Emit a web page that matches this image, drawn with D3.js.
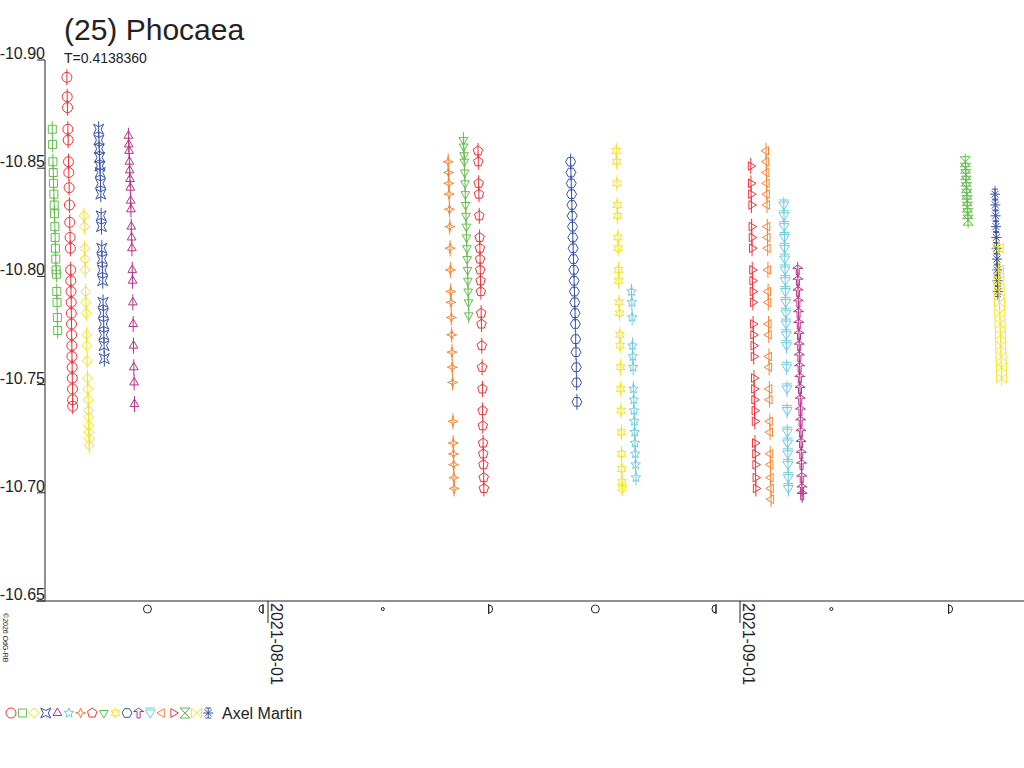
<!DOCTYPE html>
<html>
<head>
<meta charset="utf-8">
<script src="https://cdn.jsdelivr.net/npm/d3@7"></script>
<style>
body { margin: 0; background: #fff; }
svg { font-family: "Liberation Sans", Arial, sans-serif; }
</style>
</head>
<body>
<svg id="chart" width="1024" height="768"></svg>
<script>
// session start dates (observation nights)
var sessionStart = ["2021-07-17T20:00", "2021-07-18T19:00", "2021-07-19T22:00", "2021-07-20T21:00", "2021-07-22T20:00",
  "2021-08-12T20:00", "2021-08-13T20:00", "2021-08-14T19:00", "2021-08-20T21:00", "2021-08-23T21:00",
  "2021-08-24T21:00", "2021-09-01T17:00", "2021-09-02T17:00", "2021-09-03T21:00", "2021-09-04T19:00",
  "2021-09-15T19:00", "2021-09-17T18:00", "2021-09-17T23:00"];
var symbols = ["circle", "square", "diamond", "squareX", "triangle", "star5", "star4", "pentagon", "triDown",
  "star6", "hexagon", "tee", "triDownBar", "triLeft", "triRight", "hourglass", "bowtie", "asterisk"];
var colors = ["#ee3338", "#66bb50", "#f6e31c", "#3953a4", "#b5338a", "#6dcbdc", "#f58532", "#ee3338", "#66bb50",
  "#f6e31c", "#3953a4", "#b5338a", "#6dcbdc", "#f58532", "#ee3338", "#66bb50", "#f6e31c", "#3953a4"];
// which legend symbol each session uses
var sessionSymbol = [1, 0, 2, 3, 4, 6, 8, 7, 10, 9, 5, 14, 13, 12, 11, 15, 17, 16];
// [hours after start, magnitude]
var sessionData = [
  [[0,-10.868],[0.5,-10.861],[1,-10.853],[1.5,-10.848],[2,-10.843],[2.5,-10.838],[3,-10.833],[3.5,-10.829],[4,-10.823],[4.5,-10.818],[5,-10.813],[5.5,-10.808],[6,-10.803],[6.5,-10.801],[7,-10.793],[7.5,-10.788],[8,-10.781],[8.5,-10.775]],
  [[0,-10.892],[0.5,-10.883],[1,-10.878],[1.5,-10.868],[2,-10.863],[2.5,-10.853],[3,-10.848],[3.5,-10.841],[4,-10.833],[4.5,-10.825],[5,-10.818],[5.5,-10.813],[6,-10.803],[6.2,-10.798],[6.5,-10.793],[6.8,-10.788],[7,-10.783],[7.3,-10.778],[7.5,-10.773],[7.8,-10.768],[8,-10.763],[8.3,-10.758],[8.5,-10.753],[8.8,-10.748],[9,-10.743],[9.2,-10.740]],
  [[0,-10.828],[0.5,-10.823],[1,-10.813],[1.5,-10.808],[2,-10.803],[2.5,-10.793],[3,-10.788],[3.5,-10.783],[4,-10.773],[4.5,-10.768],[5,-10.761],[5.5,-10.753],[6,-10.748],[6.5,-10.743],[7,-10.738],[7.2,-10.735],[7.5,-10.731],[7.8,-10.728],[8,-10.725],[8.3,-10.722]],
  [[0,-10.868],[0.5,-10.863],[1,-10.859],[1.5,-10.855],[2,-10.851],[2.5,-10.848],[3,-10.843],[3.5,-10.838],[4,-10.828],[4.5,-10.823],[5,-10.813],[5.5,-10.808],[6,-10.803],[6.5,-10.798],[7,-10.788],[7.5,-10.783],[8,-10.778],[8.3,-10.773],[8.6,-10.768],[9,-10.762]],
  [[0,-10.865],[0.5,-10.861],[1,-10.858],[1.5,-10.853],[2,-10.849],[2.5,-10.845],[3,-10.841],[3.5,-10.835],[4,-10.831],[4.5,-10.823],[5,-10.818],[5.5,-10.813],[6,-10.803],[6.5,-10.798],[7,-10.788],[7.5,-10.778],[8,-10.768],[8.5,-10.758],[9,-10.751],[9.5,-10.741]],
  [[0,-10.853],[0.5,-10.848],[1,-10.843],[1.5,-10.838],[2,-10.831],[2.5,-10.823],[3,-10.813],[3.5,-10.803],[4,-10.793],[4.5,-10.788],[5,-10.781],[5.5,-10.773],[6,-10.765],[6.5,-10.758],[7,-10.751],[7.5,-10.733],[8,-10.723],[8.3,-10.718],[8.6,-10.713],[9,-10.707],[9.3,-10.702]],
  [[0,-10.863],[0.5,-10.860],[1,-10.856],[1.5,-10.853],[2,-10.848],[2.5,-10.843],[3,-10.838],[3.5,-10.833],[4,-10.828],[4.5,-10.823],[5,-10.818],[5.5,-10.813],[6,-10.808],[6.5,-10.803],[7,-10.798],[7.5,-10.793],[8,-10.788],[8.5,-10.782]],
  [[0,-10.858],[0.5,-10.853],[1,-10.843],[1.5,-10.838],[2,-10.828],[2.5,-10.818],[3,-10.813],[3.3,-10.808],[3.6,-10.803],[4,-10.798],[4.5,-10.793],[5,-10.783],[5.5,-10.778],[6,-10.768],[6.5,-10.758],[7,-10.748],[7.3,-10.738],[7.6,-10.731],[8,-10.723],[8.3,-10.718],[8.6,-10.713],[9,-10.707],[9.3,-10.702]],
  [[0,-10.853],[0.5,-10.848],[1,-10.843],[1.5,-10.838],[2,-10.833],[2.5,-10.828],[3,-10.823],[3.5,-10.818],[4,-10.813],[4.5,-10.808],[5,-10.803],[5.5,-10.798],[6,-10.793],[6.5,-10.788],[7,-10.783],[7.5,-10.778],[8,-10.771],[8.5,-10.765],[9,-10.758],[9.5,-10.751],[10,-10.742]],
  [[0,-10.858],[0.5,-10.853],[1,-10.843],[1.5,-10.833],[2,-10.828],[2.5,-10.818],[3,-10.813],[3.5,-10.803],[4,-10.798],[4.5,-10.788],[5,-10.783],[5.5,-10.773],[6,-10.768],[6.5,-10.758],[7,-10.748],[7.5,-10.738],[8,-10.728],[8.3,-10.718],[8.6,-10.711],[9,-10.705],[9.3,-10.702]],
  [[0,-10.793],[0.5,-10.788],[1,-10.781],[1.5,-10.768],[2,-10.763],[2.5,-10.758],[3,-10.748],[3.5,-10.743],[4,-10.738],[4.5,-10.733],[5,-10.728],[5.5,-10.723],[6,-10.718],[6.5,-10.713],[7,-10.707]],
  [[0,-10.851],[0.3,-10.843],[0.6,-10.838],[1,-10.833],[1.3,-10.823],[1.6,-10.818],[2,-10.813],[2.3,-10.803],[2.6,-10.798],[3,-10.793],[3.3,-10.788],[3.6,-10.778],[4,-10.773],[4.3,-10.768],[4.6,-10.763],[5,-10.753],[5.3,-10.748],[5.6,-10.743],[6,-10.738],[6.3,-10.733],[6.6,-10.723],[7,-10.718],[7.3,-10.713],[7.6,-10.707],[8,-10.702]],
  [[0,-10.858],[0.3,-10.853],[0.6,-10.848],[1,-10.843],[1.3,-10.838],[1.6,-10.833],[2,-10.823],[2.3,-10.818],[2.6,-10.813],[3,-10.803],[3.3,-10.793],[3.6,-10.788],[4,-10.778],[4.3,-10.773],[4.6,-10.763],[5,-10.758],[5.3,-10.748],[5.6,-10.743],[6,-10.733],[6.3,-10.728],[6.6,-10.718],[7,-10.713],[7.3,-10.707],[7.6,-10.702],[8,-10.697]],
  [[0,-10.833],[0.3,-10.828],[0.6,-10.823],[1,-10.818],[1.3,-10.813],[1.6,-10.808],[2,-10.803],[2.3,-10.798],[2.6,-10.793],[3,-10.788],[3.3,-10.783],[3.6,-10.778],[4,-10.773],[4.3,-10.768],[4.6,-10.758],[5,-10.748],[5.3,-10.738],[5.6,-10.728],[6,-10.723],[6.3,-10.718],[6.6,-10.713],[7,-10.707],[7.3,-10.702]],
  [[0,-10.803],[0.3,-10.798],[0.6,-10.793],[1,-10.788],[1.3,-10.783],[1.6,-10.778],[2,-10.773],[2.3,-10.768],[2.6,-10.763],[3,-10.758],[3.3,-10.753],[3.6,-10.748],[4,-10.743],[4.3,-10.738],[4.6,-10.733],[5,-10.728],[5.3,-10.723],[5.6,-10.718],[6,-10.713],[6.3,-10.707],[6.6,-10.702],[7,-10.699]],
  [[0,-10.853],[0.5,-10.850],[1,-10.847],[1.5,-10.844],[2,-10.841],[2.5,-10.838],[3,-10.835],[3.5,-10.832],[4,-10.829],[4.5,-10.826]],
  [[0,-10.838],[0.5,-10.833],[1,-10.828],[1.5,-10.823],[2,-10.818],[2.5,-10.813],[3,-10.808],[3.5,-10.803],[4,-10.798],[4.5,-10.793]],
  [[0,-10.813],[0.5,-10.803],[1,-10.798],[1.5,-10.793],[2,-10.788],[2.5,-10.783],[3,-10.778],[3.5,-10.773],[4,-10.768],[4.5,-10.763],[5,-10.758],[5.5,-10.753]]
];
var yTicks = [-10.90, -10.85, -10.80, -10.75, -10.70, -10.65];
var dateTicks = ["2021-08-01", "2021-09-01"];
// moon phases: 0 new, 1 first quarter, 2 full, 3 last quarter
var moonDates = ["2021-07-24T02:00", "2021-07-31T13:00", "2021-08-08T13:00", "2021-08-15T15:00", "2021-08-22T12:00", "2021-08-30T07:00", "2021-09-07T00:00", "2021-09-14T20:00"];
var moonPhases = [2, 3, 0, 1, 2, 3, 0, 1];
var observer = "Axel Martin";

var svg = d3.select("#chart");
var parse = d3.timeParse("%Y-%m-%dT%H:%M");
var parseDay = d3.timeParse("%Y-%m-%d");

var x = d3.scaleTime()
  .domain([parseDay("2021-08-01"), parseDay("2021-09-01")])
  .range([268, 740]);
var y = d3.scaleLinear().domain([-10.90, -10.65]).range([60, 601]);

function shape(name, r) {
  var p = d3.path();
  function poly(pts) {
    pts.forEach(function(q, i) { if (i) p.lineTo(q[0], q[1]); else p.moveTo(q[0], q[1]); });
    p.closePath();
  }
  function ngon(n, rot) {
    var pts = [];
    for (var i = 0; i < n; i++) { var a = rot + i * 2 * Math.PI / n; pts.push([r * Math.sin(a), -r * Math.cos(a)]); }
    poly(pts);
  }
  function starN(n, inner) {
    var pts = [];
    for (var i = 0; i < 2 * n; i++) { var a = i * Math.PI / n, rr = i % 2 ? r * inner : r; pts.push([rr * Math.sin(a), -rr * Math.cos(a)]); }
    poly(pts);
  }
  switch (name) {
    case "circle": p.moveTo(r, 0); p.arc(0, 0, r, 0, 2 * Math.PI); break;
    case "square": p.rect(-r * 0.8, -r * 0.8, r * 1.6, r * 1.6); break;
    case "diamond": ngon(4, 0); break;
    case "squareX": poly([[-r, -r], [0, -r * 0.5], [r, -r], [r * 0.5, 0], [r, r], [0, r * 0.5], [-r, r], [-r * 0.5, 0]]); break;
    case "triangle": ngon(3, 0); break;
    case "star5": starN(5, 0.45); break;
    case "star4": starN(4, 0.35); break;
    case "pentagon": ngon(5, 0); break;
    case "triDown": ngon(3, Math.PI); break;
    case "star6": starN(6, 0.5); break;
    case "hexagon": ngon(6, Math.PI / 6); break;
    case "tee": poly([[-r, -r * 0.3], [0, -r], [r, -r * 0.3], [r * 0.3, -r * 0.3], [r * 0.3, r], [-r * 0.3, r], [-r * 0.3, -r * 0.3]]); break;
    case "triDownBar": poly([[-r, -r * 0.6], [r, -r * 0.6], [0, r]]); p.moveTo(-r, -r); p.lineTo(r, -r); break;
    case "triLeft": ngon(3, -Math.PI / 2); break;
    case "triRight": ngon(3, Math.PI / 2); break;
    case "hourglass": poly([[-r, -r], [r, -r], [-r, r], [r, r]]); break;
    case "bowtie": poly([[-r, -r], [r, r], [r, -r], [-r, r]]); break;
    case "asterisk":
      for (var i = 0; i < 4; i++) { var a = i * Math.PI / 4; p.moveTo(r * Math.cos(a), r * Math.sin(a)); p.lineTo(-r * Math.cos(a), -r * Math.sin(a)); }
      p.moveTo(-r * 0.6, -r); p.lineTo(r * 0.6, -r); p.moveTo(-r * 0.6, r); p.lineTo(r * 0.6, r);
      break;
  }
  return p.toString();
}

// title
svg.append("text").attr("x", 64).attr("y", 40).attr("font-size", 30).attr("fill", "#222").text("(25) Phocaea");
svg.append("text").attr("x", 64).attr("y", 63).attr("font-size", 14).attr("fill", "#222").text("T=0.4138360");

// axes
svg.append("line").attr("x1", 45).attr("x2", 45).attr("y1", 60).attr("y2", 601).attr("stroke", "#222");
svg.append("line").attr("x1", 36).attr("x2", 1024).attr("y1", 601).attr("y2", 601).attr("stroke", "#222");
yTicks.forEach(function(t) {
  svg.append("line").attr("x1", 37).attr("x2", 45).attr("y1", y(t)).attr("y2", y(t)).attr("stroke", "#222");
  svg.append("text").attr("x", 45).attr("y", y(t) - 1).attr("text-anchor", "end").attr("font-size", 16).attr("fill", "#222").text(d3.format(".2f")(t).replace("−", "-"));
});
dateTicks.forEach(function(d) {
  var px = x(parseDay(d));
  svg.append("line").attr("x1", px).attr("x2", px).attr("y1", 601).attr("y2", 623).attr("stroke", "#222");
  svg.append("text").attr("transform", "translate(" + (px + 3) + ",603) rotate(90)").attr("font-size", 16).attr("fill", "#222").text(d);
});

// moon phase markers
moonDates.forEach(function(d, i) {
  var g = svg.append("g").attr("transform", "translate(" + x(parse(d)) + ",609)");
  var ph = moonPhases[i];
  if (ph === 0) g.append("circle").attr("r", 1.5).attr("fill", "none").attr("stroke", "#222");
  else if (ph === 2) g.append("circle").attr("r", 4).attr("fill", "none").attr("stroke", "#222");
  else {
    var s = ph === 1 ? 1 : -1;
    g.append("path").attr("d", "M" + (-s * 2) + ",-4 L" + (-s * 2) + ",4 A4,4 0 0," + (s === 1 ? 0 : 1) + " " + (-s * 2) + ",-4")
      .attr("fill", "none").attr("stroke", "#222");
    g.append("line").attr("x1", -s * 2).attr("x2", -s * 2).attr("y1", -5).attr("y2", 5).attr("stroke", "#222");
  }
});

// data points
sessionData.forEach(function(pts, si) {
  var t0 = parse(sessionStart[si]);
  var sym = symbols[sessionSymbol[si]];
  var col = colors[sessionSymbol[si]];
  var g = svg.append("g").attr("stroke", col).attr("fill", "none").attr("stroke-width", 1);
  pts.forEach(function(d) {
    var px = x(new Date(+t0 + d[0] * 3600e3)), py = y(d[1]);
    g.append("line").attr("x1", px).attr("x2", px).attr("y1", py - 8).attr("y2", py + 8);
    g.append("path").attr("transform", "translate(" + px + "," + py + ")").attr("d", shape(sym, 5));
  });
});

// copyright
svg.append("text").attr("transform", "translate(3,613) rotate(90)").attr("font-size", 7).attr("fill", "#222").text("©2026 OdG-RB");

// legend
symbols.forEach(function(s, i) {
  svg.append("path").attr("transform", "translate(" + (11 + i * 11.6) + ",713)").attr("d", shape(s, 5))
    .attr("fill", "none").attr("stroke", colors[i]);
});
svg.append("text").attr("x", 222).attr("y", 719).attr("font-size", 16).attr("fill", "#222").text(observer);
</script>
</body>
</html>
